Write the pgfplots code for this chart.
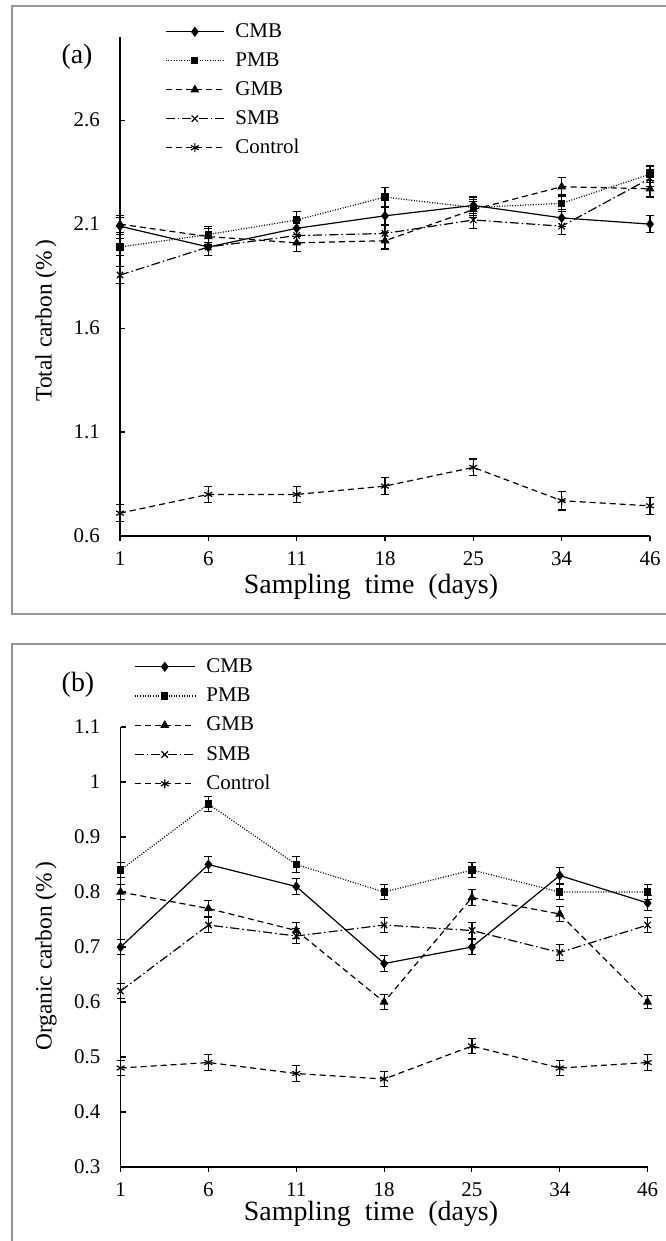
\documentclass[border=0pt]{standalone}
\usepackage{fontspec}
\setmainfont{Liberation Serif}
\usepackage{pgfplots}
\pgfplotsset{compat=1.18}
\definecolor{framegray}{RGB}{150,150,150}
\pgfplotsset{
  panel/.style={
    scale only axis, anchor=south west, clip=false,
    axis lines=left, axis line style={-, line width=1.3bp},
    xmin=0, xmax=6, xtick={0,1,2,3,4,5,6}, xticklabels={1,6,11,18,25,34,46},
    tick align=outside, major tick length=5bp,
    ytick style={xshift=5bp, line width=1.1bp, black}, xtick style={line width=1.1bp, black},
    tick label style={font=\fontsize{21}{21}\selectfont},
    /pgf/number format/assume math mode=true,
    yticklabel style={inner sep=0pt, anchor=east, xshift=-15bp},
    xticklabel style={inner sep=0pt, anchor=north, yshift=-10bp},
    legend cell align=left,
    every axis plot/.append style={line width=1.2bp, black, mark options={solid}},
  },
  eb/.style={error bars/.cd, y dir=both, y explicit,
    error bar style={solid, line width=1.2bp},
    error mark options={rotate=90, mark size=4bp, solid, line width=1.2bp}},
  cmb/.style={solid, mark=diamond*, mark size=4.2bp},
  pmb/.style={dash pattern=on 1bp off 1.6bp, mark=square*, mark size=3bp},
  gmb/.style={dash pattern=on 6bp off 4bp, mark=triangle*, mark size=4bp},
  smb/.style={dash pattern=on 9bp off 3bp on 1.5bp off 3bp, mark=x, mark size=4.5bp},
  ctl/.style={dash pattern=on 6bp off 4bp, mark=asterisk, mark size=4.5bp},
}
\begin{document}
\begin{tikzpicture}
\path[use as bounding box] (0bp,0bp) rectangle (666bp,-1241bp);
\begin{scope}
\clip (0bp,0bp) rectangle (666bp,-1241bp);
\draw[framegray, line width=1.6bp] (12bp,-6bp) rectangle (700bp,-614bp);
\draw[framegray, line width=1.6bp] (12bp,-644bp) rectangle (700bp,-1290bp);
\end{scope}

% ---------------- panel (a)
\begin{axis}[panel, at={(120bp,-536bp)}, width=530bp, height=499bp,
  ymin=0.6, ymax=3.0, ytick={0.6,1.1,1.6,2.1,2.6}, yticklabels={0.6,1.1,1.6,2.1,2.6},
  legend style={at={(0.085,1.03)}, anchor=north west, draw=none, fill=none,
    font=\fontsize{21}{21}\selectfont, row sep=10bp, inner sep=0pt,
    nodes={inner sep=0pt, text height=15bp, text depth=4bp},
    /tikz/every odd column/.append style={column sep=11bp}},
  legend image code/.code={\draw[mark repeat=2,mark phase=2,#1] plot coordinates {(0bp,0bp) (29bp,0bp) (58bp,0bp)};},
]
\addplot[cmb, eb] coordinates {(0,2.09) +- (0,0.04) (1,1.99) +- (0,0.04) (2,2.08) +- (0,0.04) (3,2.14) +- (0,0.04) (4,2.19) +- (0,0.04) (5,2.13) +- (0,0.04) (6,2.10) +- (0,0.04)};
\addlegendentry{CMB}
\addplot[pmb, eb] coordinates {(0,1.99) +- (0,0.04) (1,2.05) +- (0,0.04) (2,2.12) +- (0,0.04) (3,2.23) +- (0,0.045) (4,2.18) +- (0,0.04) (5,2.20) +- (0,0.04) (6,2.34) +- (0,0.04)};
\addlegendentry{PMB}
\addplot[gmb, eb] coordinates {(0,2.10) +- (0,0.04) (1,2.04) +- (0,0.04) (2,2.01) +- (0,0.04) (3,2.02) +- (0,0.04) (4,2.17) +- (0,0.04) (5,2.28) +- (0,0.045) (6,2.27) +- (0,0.04)};
\addlegendentry{GMB}
\addplot[smb, eb] coordinates {(0,1.855) +- (0,0.04) (1,1.99) +- (0,0.04) (2,2.045) +- (0,0.04) (3,2.055) +- (0,0.04) (4,2.12) +- (0,0.04) (5,2.09) +- (0,0.04) (6,2.32) +- (0,0.04)};
\addlegendentry{SMB}
\addplot[ctl, eb] coordinates {(0,0.71) +- (0,0.04) (1,0.80) +- (0,0.04) (2,0.80) +- (0,0.04) (3,0.84) +- (0,0.04) (4,0.93) +- (0,0.04) (5,0.77) +- (0,0.045) (6,0.745) +- (0,0.04)};
\addlegendentry{Control}
\end{axis}
\node[font=\fontsize{28}{28}\selectfont] at (77bp,-57bp) {(a)};
\node[font=\fontsize{23.5}{23.5}\selectfont, rotate=90] at (46bp,-320.5bp) {Total carbon (\%\,)};
\node[font=\fontsize{28}{28}\selectfont] at (371bp,-586.5bp) {Sampling~~time~~(days)};

% ---------------- panel (b)
\begin{axis}[panel, at={(120.6bp,-1167bp)}, width=527bp, height=440bp,
  ymin=0.3, ymax=1.1, ytick={0.3,0.4,0.5,0.6,0.7,0.8,0.9,1.0,1.1},
  yticklabels={0.3,0.4,0.5,0.6,0.7,0.8,0.9,1,1.1},
  legend style={at={(0.0254,1.159)}, anchor=north west, draw=none, fill=none,
    font=\fontsize{21}{21}\selectfont, row sep=10.25bp, inner sep=0pt,
    nodes={inner sep=0pt, text height=15bp, text depth=4bp},
    /tikz/every odd column/.append style={column sep=11bp}},
  legend image code/.code={\draw[mark repeat=2,mark phase=2,#1] plot coordinates {(0bp,0bp) (30bp,0bp) (60bp,0bp)};},
]
\addplot[cmb, eb] coordinates {(0,0.70) +- (0,0.014) (1,0.85) +- (0,0.015) (2,0.81) +- (0,0.014) (3,0.67) +- (0,0.014) (4,0.70) +- (0,0.014) (5,0.83) +- (0,0.014) (6,0.78) +- (0,0.014)};
\addlegendentry{CMB}
\addplot[pmb, eb] coordinates {(0,0.84) +- (0,0.014) (1,0.96) +- (0,0.014) (2,0.85) +- (0,0.014) (3,0.80) +- (0,0.014) (4,0.84) +- (0,0.014) (5,0.80) +- (0,0.014) (6,0.80) +- (0,0.014)};
\addlegendentry{PMB}
\addplot[gmb, eb] coordinates {(0,0.80) +- (0,0.014) (1,0.77) +- (0,0.014) (2,0.73) +- (0,0.014) (3,0.60) +- (0,0.014) (4,0.79) +- (0,0.014) (5,0.76) +- (0,0.014) (6,0.60) +- (0,0.012)};
\addlegendentry{GMB}
\addplot[smb, eb] coordinates {(0,0.62) +- (0,0.014) (1,0.74) +- (0,0.014) (2,0.72) +- (0,0.014) (3,0.74) +- (0,0.014) (4,0.73) +- (0,0.014) (5,0.69) +- (0,0.014) (6,0.74) +- (0,0.014)};
\addlegendentry{SMB}
\addplot[ctl, eb] coordinates {(0,0.48) +- (0,0.014) (1,0.49) +- (0,0.014) (2,0.47) +- (0,0.014) (3,0.46) +- (0,0.014) (4,0.52) +- (0,0.014) (5,0.48) +- (0,0.014) (6,0.49) +- (0,0.014)};
\addlegendentry{Control}
\end{axis}
\node[font=\fontsize{28}{28}\selectfont] at (78bp,-685bp) {(b)};
\node[font=\fontsize{23.5}{23.5}\selectfont, rotate=90] at (46bp,-956bp) {Organic carbon (\%\,)};
\node[font=\fontsize{28}{28}\selectfont] at (371bp,-1214bp) {Sampling~~time~~(days)};
\end{tikzpicture}
\end{document}
